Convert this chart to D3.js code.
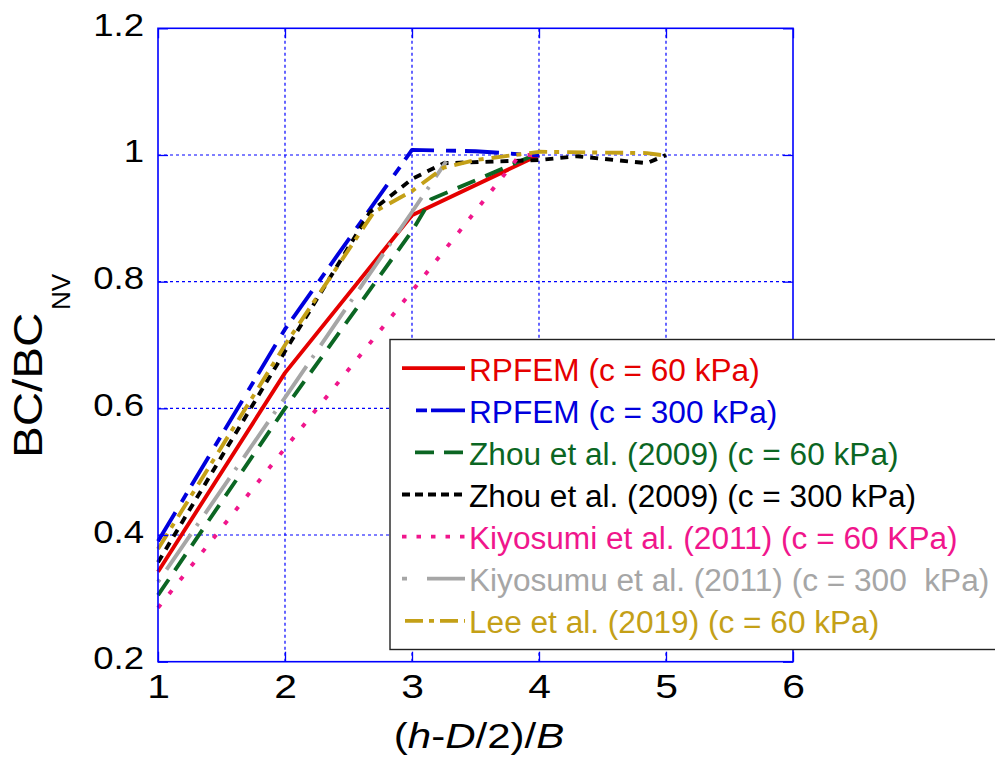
<!DOCTYPE html>
<html>
<head>
<meta charset="utf-8">
<script src="https://cdn.jsdelivr.net/npm/d3@7"></script>
<style>
  html, body { margin: 0; padding: 0; background: #fff; }
  svg { display: block; font-family: "Liberation Sans", Arial, sans-serif; }
</style>
</head>
<body>
<svg id="chart" width="995" height="759"></svg>
<script>
// ---------- data ----------
const xTicks = [1, 2, 3, 4, 5, 6];
const yTicks = [0.2, 0.4, 0.6, 0.8, 1.0, 1.2];

const rpfem60   = [[1, 0.342], [2, 0.656], [3, 0.905], [4, 1.0]];
const rpfem300  = [[1, 0.39], [2, 0.725], [3, 1.008], [3.5, 1.006], [4, 0.999]];
const zhou60    = [[1, 0.305], [2, 0.60], [3, 0.88], [3.15, 0.93], [4, 1.003]];
const zhou300   = [[1, 0.357], [2, 0.69], [2.67, 0.91], [3, 0.962], [3.25, 0.987], [4, 0.992], [4.3, 0.998], [4.85, 0.987], [5, 1.0]];
const kiyo60    = [[1, 0.285], [2, 0.537], [3, 0.785], [3.85, 1.0], [4, 1.0]];
const kiyo300   = [[1, 0.326], [2, 0.617], [3, 0.91], [3.27, 0.99]];
const lee60     = [[1, 0.378], [2, 0.70], [2.7, 0.91], [3, 0.943], [3.25, 0.98], [3.5, 0.992], [4, 1.005], [4.85, 1.003], [5, 0.999]];

const legendLabels = [
  "RPFEM (c = 60 kPa)",
  "RPFEM (c = 300 kPa)",
  "Zhou et al. (2009) (c = 60 kPa)",
  "Zhou et al. (2009) (c = 300 kPa)",
  "Kiyosumi et al. (2011) (c = 60 KPa)",
  "Kiyosumu et al. (2011) (c = 300  kPa)",
  "Lee et al. (2019) (c = 60 kPa)"
];

// ---------- styles ----------
const seriesData = [rpfem60, rpfem300, zhou60, zhou300, kiyo60, kiyo300, lee60];
const colors = ["#e50000", "#0000dd", "#0b6623", "#000000", "#f0168c", "#a6a6a6", "#c4a017"];
const dashes = [null, "34,12,10,9", "19,11", "8,7", "4.5,13.3", "3,12,43,10", "18,7,5,8"];
const legendDash = [null, "11,4,34,12", "19,10", "8,5", "4.5,10", "5,20,40,10", "18,6,5,6"];
const legendStart = [402, 416, 415, 402, 402, 402, 405];

const X0 = 158, X1 = 793, Y0 = 661.7, Y1 = 28.3;
const svg = d3.select("#chart");
const x = d3.scaleLinear().domain([1, 6]).range([X0, X1]);
const y = d3.scaleLinear().domain([0.2, 1.2]).range([Y0, Y1]);

// grid
const grid = svg.append("g");
grid.selectAll("line.v").data(xTicks.slice(1, -1)).join("line")
  .attr("x1", d => x(d)).attr("x2", d => x(d)).attr("y1", Y0).attr("y2", Y1)
  .attr("stroke", "#0000ff").attr("stroke-width", 1.2).attr("stroke-dasharray", "3,3");
grid.selectAll("line.h").data(yTicks.slice(1, -1)).join("line")
  .attr("y1", d => y(d)).attr("y2", d => y(d)).attr("x1", X0).attr("x2", X1)
  .attr("stroke", "#0000ff").attr("stroke-width", 1.2).attr("stroke-dasharray", "3,3");

// series
const line = d3.line().x(d => x(d[0])).y(d => y(d[1]));
svg.append("g").selectAll("path").data(seriesData).join("path")
  .attr("d", d => line(d))
  .attr("fill", "none")
  .attr("stroke", (d, i) => colors[i])
  .attr("stroke-width", 3.9)
  .attr("stroke-linejoin", "round")
  .attr("stroke-dasharray", (d, i) => dashes[i]);

// axes
function styleAxis(g) {
  g.select(".domain").remove();
  g.selectAll(".tick line").attr("stroke", "#0000ff").attr("stroke-width", 1.3);
}
const fmtY = d => (d === 1 ? "1" : d3.format(".1f")(d));

const gx = svg.append("g").attr("transform", `translate(0,${Y0})`)
  .call(d3.axisBottom(x).tickValues(xTicks).tickSize(-10).tickFormat(d3.format("d")));
styleAxis(gx);
gx.selectAll(".tick text").attr("y", null).attr("dy", null)
  .attr("fill", "#000").attr("font-size", 34)
  .attr("font-family", "Liberation Sans, Arial, sans-serif")
  .attr("transform", "translate(0,36.5) scale(1.2,1)");

const gxt = svg.append("g").attr("transform", `translate(0,${Y1})`)
  .call(d3.axisTop(x).tickValues(xTicks).tickSize(-10).tickFormat(""));
styleAxis(gxt);

const gy = svg.append("g").attr("transform", `translate(${X0},0)`)
  .call(d3.axisLeft(y).tickValues(yTicks).tickSize(-10).tickFormat(fmtY));
styleAxis(gy);
gy.selectAll(".tick text").attr("x", null).attr("dy", null)
  .attr("fill", "#000").attr("font-size", 31).attr("text-anchor", "end")
  .attr("font-family", "Liberation Sans, Arial, sans-serif")
  .attr("transform", "translate(-14,7) scale(1.18,1)");

const gyr = svg.append("g").attr("transform", `translate(${X1},0)`)
  .call(d3.axisRight(y).tickValues(yTicks).tickSize(-10).tickFormat(""));
styleAxis(gyr);

// frame
svg.append("rect").attr("x", X0).attr("y", Y1).attr("width", X1 - X0).attr("height", Y0 - Y1)
  .attr("fill", "none").attr("stroke", "#0000ff").attr("stroke-width", 1.6);

// axis titles
const xt = svg.append("text").attr("transform", "translate(479,748) scale(1.2,1)")
  .attr("text-anchor", "middle").attr("font-size", 35).attr("fill", "#000");
xt.append("tspan").text("(");
xt.append("tspan").attr("font-style", "italic").text("h");
xt.append("tspan").text("-");
xt.append("tspan").attr("font-style", "italic").text("D");
xt.append("tspan").text("/2)/");
xt.append("tspan").attr("font-style", "italic").text("B");

const yt = svg.append("g").attr("transform", "translate(42,458) rotate(-90)");
yt.append("text").attr("transform", "scale(1.19,1)").attr("font-size", 40).attr("fill", "#000").text("BC/BC");
yt.append("text").attr("x", 148).attr("y", 28).attr("font-size", 26).attr("fill", "#000").text("NV");

// legend
const leg = svg.append("g");
leg.append("rect").attr("x", 390).attr("y", 339.5).attr("width", 640).attr("height", 310)
  .attr("fill", "#fff").attr("stroke", "#222").attr("stroke-width", 1.4);
const rows = leg.selectAll("g.row").data(legendLabels).join("g")
  .attr("transform", (d, i) => `translate(0,${380.7 + i * 42.1})`);
rows.append("line")
  .attr("x1", (d, i) => legendStart[i]).attr("x2", 465).attr("y1", -12.5).attr("y2", -12.5)
  .attr("stroke", (d, i) => colors[i]).attr("stroke-width", 3.8)
  .attr("stroke-dasharray", (d, i) => legendDash[i]);
rows.append("text").attr("transform", "translate(469,0) scale(1.02,1)")
  .attr("font-size", 31).attr("fill", (d, i) => colors[i])
  .attr("xml:space", "preserve").style("white-space", "pre")
  .text(d => d);
</script>
</body>
</html>
